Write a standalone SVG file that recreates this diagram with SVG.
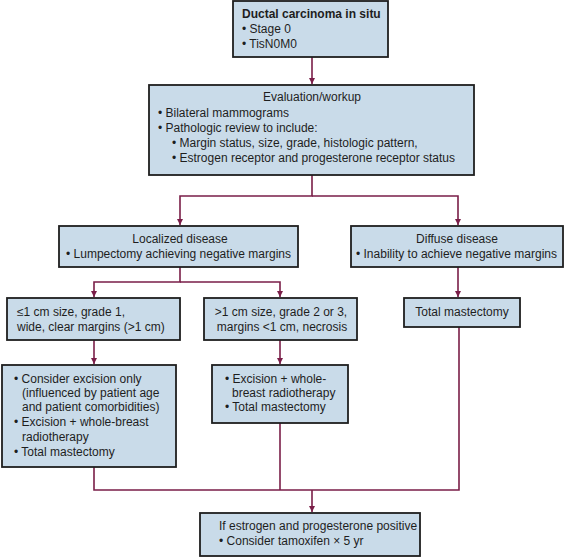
<svg xmlns="http://www.w3.org/2000/svg" width="565" height="557" viewBox="0 0 565 557">
<defs>
<style>
.box{fill:#c9dbe9;stroke:#1e1e1e;stroke-width:1.8}
.t{font-family:"Liberation Sans",Arial,sans-serif;font-size:12px;fill:#1e1e1e}
.b{font-weight:bold}
.m{text-anchor:middle}
.c{fill:none;stroke:#7a1e48;stroke-width:1.6}
</style>
<marker id="ah" viewBox="0 0 10 10" refX="10" refY="5" markerWidth="6" markerHeight="6" markerUnits="userSpaceOnUse" orient="auto">
<path d="M0,0 L10,5 L0,10 z" fill="#7a1e48"/>
</marker>
</defs>
<rect width="565" height="557" fill="#ffffff"/>
<g id="connectors">
<path class="c" d="M312 57 V84" marker-end="url(#ah)"/>
<path class="c" d="M312 175 V196 H180 V225" marker-end="url(#ah)"/>
<path class="c" d="M312 196 H458 V225" marker-end="url(#ah)"/>
<path class="c" d="M180 267 V282 H94 V297" marker-end="url(#ah)"/>
<path class="c" d="M180 282 H280 V297" marker-end="url(#ah)"/>
<path class="c" d="M458 267 V297" marker-end="url(#ah)"/>
<path class="c" d="M94 340 V364" marker-end="url(#ah)"/>
<path class="c" d="M280 340 V364" marker-end="url(#ah)"/>
<path class="c" d="M94 467 V490 H459 V327"/>
<path class="c" d="M280 423 V490"/>
<path class="c" d="M312 490 V512" marker-end="url(#ah)"/>
</g>
<g id="dcis">
<rect class="box" x="233" y="1" width="155" height="56"/>
<text class="t b" x="242" y="18">Ductal carcinoma in situ</text>
<text class="t" x="242" y="33">• Stage 0</text>
<text class="t" x="242" y="48">• TisN0M0</text>
</g>
<g id="evaluation">
<rect class="box" x="149" y="85" width="325" height="90"/>
<text class="t m" x="312" y="101">Evaluation/workup</text>
<text class="t" x="158" y="117">• Bilateral mammograms</text>
<text class="t" x="158" y="132">• Pathologic review to include:</text>
<text class="t" x="172" y="147">• Margin status, size, grade, histologic pattern,</text>
<text class="t" x="172" y="162">• Estrogen receptor and progesterone receptor status</text>
</g>
<g id="localized">
<rect class="box" x="59" y="226" width="239" height="41"/>
<text class="t m" x="180" y="243">Localized disease</text>
<text class="t" x="66" y="258">• Lumpectomy achieving negative margins</text>
</g>
<g id="diffuse">
<rect class="box" x="351" y="226" width="212" height="41"/>
<text class="t m" x="457" y="243">Diffuse disease</text>
<text class="t" x="356" y="258">• Inability to achieve negative margins</text>
</g>
<g id="small">
<rect class="box" x="7" y="298" width="173" height="42"/>
<text class="t" x="17" y="316">≤1 cm size, grade 1,</text>
<text class="t" x="17" y="331">wide, clear margins (&gt;1 cm)</text>
</g>
<g id="large">
<rect class="box" x="204" y="298" width="153" height="42"/>
<text class="t m" x="281" y="316">&gt;1 cm size, grade 2 or 3,</text>
<text class="t m" x="282" y="331">margins &lt;1 cm, necrosis</text>
</g>
<g id="total">
<rect class="box" x="404" y="298" width="116" height="29"/>
<text class="t m" x="462" y="316">Total mastectomy</text>
</g>
<g id="options-small">
<rect class="box" x="2" y="365" width="174" height="102"/>
<text class="t" x="14" y="383">• Consider excision only</text>
<text class="t" x="22" y="397">(influenced by patient age</text>
<text class="t" x="22" y="411">and patient comorbidities)</text>
<text class="t" x="14" y="426">• Excision + whole-breast</text>
<text class="t" x="22" y="441">radiotherapy</text>
<text class="t" x="14" y="456">• Total mastectomy</text>
</g>
<g id="options-large">
<rect class="box" x="212" y="365" width="136" height="58"/>
<text class="t" x="225" y="383">• Excision + whole-</text>
<text class="t" x="232" y="397">breast radiotherapy</text>
<text class="t" x="225" y="411">• Total mastectomy</text>
</g>
<g id="tamoxifen">
<rect class="box" x="200" y="513" width="220" height="43"/>
<text class="t" x="219" y="530">If estrogen and progesterone positive</text>
<text class="t" x="219" y="545">• Consider tamoxifen × 5 yr</text>
</g>
</svg>
